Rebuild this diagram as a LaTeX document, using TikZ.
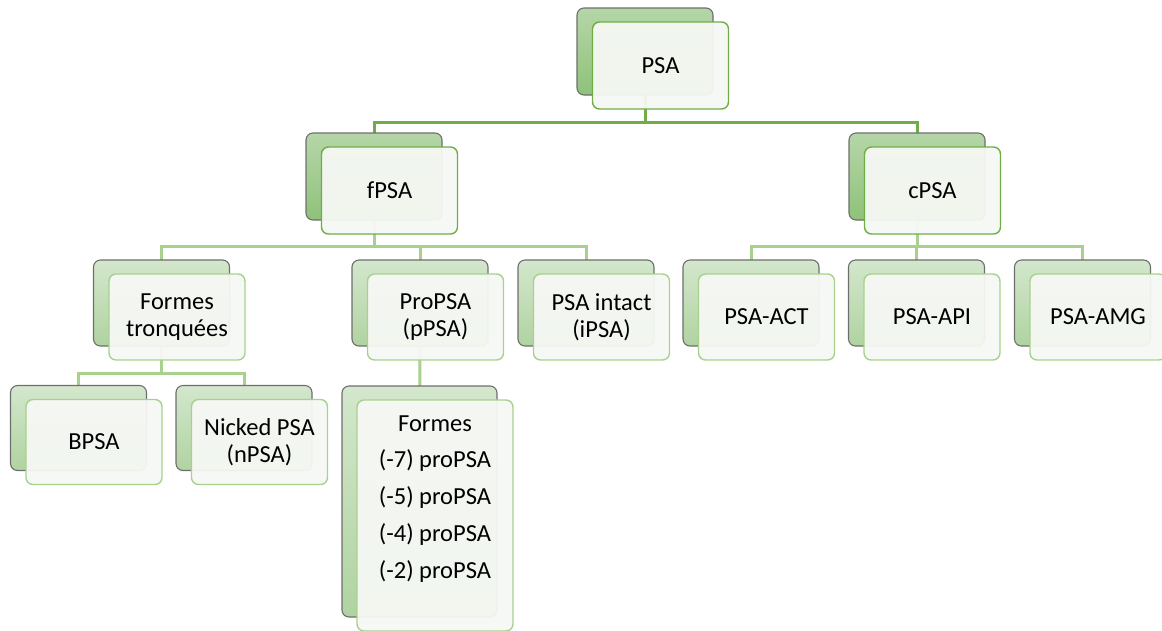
\documentclass[tikz,border=0pt]{standalone}
\usepackage{fontspec}
\setmainfont{Carlito}
\usetikzlibrary{calc}
\definecolor{gA}{HTML}{70AD47}
\definecolor{gB}{HTML}{A9D18E}
\definecolor{bkTa}{HTML}{B5D6A8}
\definecolor{bkBa}{HTML}{8FC27A}
\definecolor{bkTb}{HTML}{D3E7CC}
\definecolor{bkBb}{HTML}{B0D3A1}
\definecolor{frontfill}{HTML}{F6F8F4}
\definecolor{edgegrey}{HTML}{6E6E6E}
\pgfdeclarelayer{bg}
\pgfsetlayers{bg,main}
\tikzset{
  backbox/.style={rounded corners=7pt, draw=edgegrey, line width=1.1pt, minimum width=136pt, minimum height=87pt, inner sep=0pt},
  backone/.style={backbox, top color=bkTa, bottom color=bkBa},
  backtwo/.style={backbox, top color=bkTb, bottom color=bkBb},
  frontbox/.style={rounded corners=7pt, fill=frontfill, fill opacity=0.95, text opacity=1, line width=1.4pt, minimum width=136pt, minimum height=87pt, inner sep=0pt, align=center, font=\fontsize{24.5}{27}\selectfont},
  frontone/.style={frontbox, draw=gA},
  fronttwo/.style={frontbox, draw=gB},
  linkA/.style={draw=gA, line width=3pt},
  linkB/.style={draw=gB, line width=3pt},
}
\begin{document}
\begin{tikzpicture}[x=1pt,y=-1pt]
\useasboundingbox (0,0) rectangle (1162,630);
% level 1
\node[backone] (psaB) at (645,51.5) {};
\node[frontone] (psa) at (660.5,65.5) {PSA};
% level 2
\node[backone] (fpsaB) at (374,176.5) {};
\node[frontone] (fpsa) at (389.5,190.5) {fPSA};
\node[backone] (cpsaB) at (917,176.5) {};
\node[frontone] (cpsa) at (932.5,190.5) {cPSA};
% level 3
\node[backtwo, minimum height=86pt] (ftB) at (161.5,303) {};
\node[fronttwo, minimum height=86pt] (ft) at (177,317) {Formes\\tronquées};
\node[backtwo, minimum height=86pt] (proB) at (420,303) {};
\node[fronttwo, minimum height=86pt] (pro) at (435.5,317) {ProPSA\\(pPSA)};
\node[backtwo, minimum height=86pt] (intB) at (586,303) {};
\node[fronttwo, minimum height=86pt] (int) at (601.5,317) {PSA intact\\(iPSA)};
\node[backtwo, minimum height=86pt] (actB) at (751,303) {};
\node[fronttwo, minimum height=86pt] (act) at (766.5,317) {PSA-ACT};
\node[backtwo, minimum height=86pt] (apiB) at (916.5,303) {};
\node[fronttwo, minimum height=86pt] (api) at (932,317) {PSA-API};
\node[backtwo, minimum height=86pt] (amgB) at (1082.5,303) {};
\node[fronttwo, minimum height=86pt] (amg) at (1098,317) {PSA-AMG};
% level 4
\node[backtwo, minimum height=85pt] (bpsaB) at (78.5,428) {};
\node[fronttwo, minimum height=85pt] (bpsa) at (94,442) {BPSA};
\node[backtwo, minimum height=85pt] (nickB) at (244,428) {};
\node[fronttwo, minimum height=85pt] (nick) at (259.5,442) {Nicked PSA\\(nPSA)};
\node[backtwo, minimum width=155pt, minimum height=231pt] (lstB) at (419.5,501.5) {};
\node[fronttwo, minimum width=156pt, minimum height=231pt] (lst) at (435,515.5) {};
\node[anchor=north, align=center, inner sep=0pt, font=\fontsize{24.5}{36.7}\selectfont, yshift=-16pt] (lsttext) at (lst.north) {Formes\\(-7) proPSA\\(-5) proPSA\\(-4) proPSA\\(-2) proPSA};
% connectors
\begin{pgfonlayer}{bg}
\path (psaB.center) ++(0,70.5) coordinate (j1);
\draw[linkA] (psaB.center) -- (j1) -| (fpsaB.center);
\draw[linkA] (j1) -| (cpsaB.center);
\path (fpsaB.center) ++(0,69.5) coordinate (j2);
\draw[linkB] (fpsaB.center) -- (j2) -| (ftB.center);
\draw[linkB] (j2) -| (proB.center);
\draw[linkB] (j2) -| (intB.center);
\path (cpsaB.center) ++(0,69.5) coordinate (j3);
\draw[linkB] (cpsaB.center) -- (j3) -| (actB.center);
\draw[linkB] (j3) -| (apiB.center);
\draw[linkB] (j3) -| (amgB.center);
\path (ftB.center) ++(0,70) coordinate (j4);
\draw[linkB] (ftB.center) -- (j4) -| (bpsaB.center);
\draw[linkB] (j4) -| (nickB.center);
\draw[linkB] (proB.center) -- (lstB.center);
\end{pgfonlayer}
\end{tikzpicture}
\end{document}
